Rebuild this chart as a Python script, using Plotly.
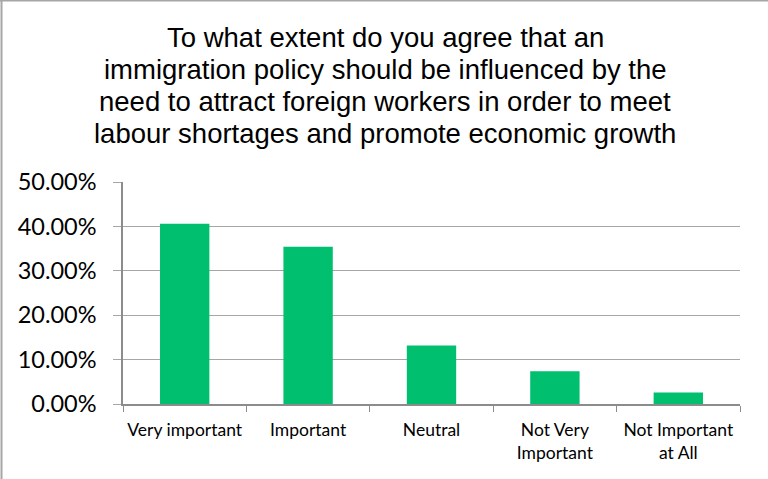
import plotly.graph_objects as go

categories = ["Very important", "Important", "Neutral", "Not Very<br>Important", "Not Important<br>at All"]
shares = [0.406, 0.354, 0.132, 0.074, 0.026]
y_ticks = [0, 0.1, 0.2, 0.3, 0.4, 0.5]
y_tick_labels = ["0.00%", "10.00%", "20.00%", "30.00%", "40.00%", "50.00%"]
title_lines = [
    "To what extent do you agree that an",
    "immigration policy should be influenced by the",
    "need to attract foreign workers in order to meet",
    "labour shortages and promote economic growth",
]
title_baselines_px = [45.5, 78, 110, 141.5]

PLOT_TOP, PLOT_BOTTOM, PLOT_LEFT, PLOT_RIGHT = 182, 404, 123, 740
W, H = 768, 479
ph = PLOT_BOTTOM - PLOT_TOP
pw = PLOT_RIGHT - PLOT_LEFT


def py(ypix):
    return (PLOT_BOTTOM - ypix) / ph


def px(xpix):
    return (xpix - PLOT_LEFT) / pw


fig = go.Figure(
    go.Bar(
        x=categories,
        y=shares,
        marker=dict(color="#00BF6F", line=dict(width=0)),
        width=0.4,
    )
)

fig.update_layout(
    width=W,
    height=H,
    margin=dict(l=PLOT_LEFT, r=W - PLOT_RIGHT, t=PLOT_TOP, b=H - PLOT_BOTTOM, autoexpand=False),
    paper_bgcolor="white",
    plot_bgcolor="white",
    showlegend=False,
    font=dict(family="Lato, Carlito, sans-serif", color="#000000"),
)

title_size = 27.5
for line, base in zip(title_lines, title_baselines_px):
    fig.add_annotation(
        text=line, xref="paper", yref="paper",
        x=px(385), y=py(base - 0.3 * title_size),
        xanchor="center", yanchor="middle", showarrow=False,
        font=dict(family="Liberation Sans, Arial, sans-serif", size=title_size, color="#000000"),
    )

fig.update_yaxes(
    range=[0, 0.5],
    tickvals=y_ticks,
    ticktext=y_tick_labels,
    tickfont=dict(size=23.5),
    showgrid=True,
    gridcolor="#A6A6A6",
    gridwidth=1,
    showline=True,
    linecolor="#8C8C8C",
    linewidth=1.5,
    ticks="outside",
    ticklen=8,
    tickcolor="#A6A6A6",
    ticklabelstandoff=12,
    zeroline=False,
    automargin=False,
)

fig.update_xaxes(
    tickfont=dict(size=17.5),
    tickangle=0,
    showline=True,
    linecolor="#8C8C8C",
    linewidth=2,
    ticks="outside",
    ticklen=6,
    tickcolor="#8C8C8C",
    tickson="boundaries",
    ticklabelstandoff=9,
    showgrid=False,
    automargin=False,
)

# chart frame edges along the top and left of the page
fig.add_shape(type="line", xref="paper", yref="paper", x0=px(0), x1=px(W),
              y0=py(0.5), y1=py(0.5), line=dict(color="#A6A6A6", width=2))
fig.add_shape(type="line", xref="paper", yref="paper", x0=px(1.5), x1=px(1.5),
              y0=py(H), y1=py(0), line=dict(color="#A6A6A6", width=2))

fig.write_html("out.html")
